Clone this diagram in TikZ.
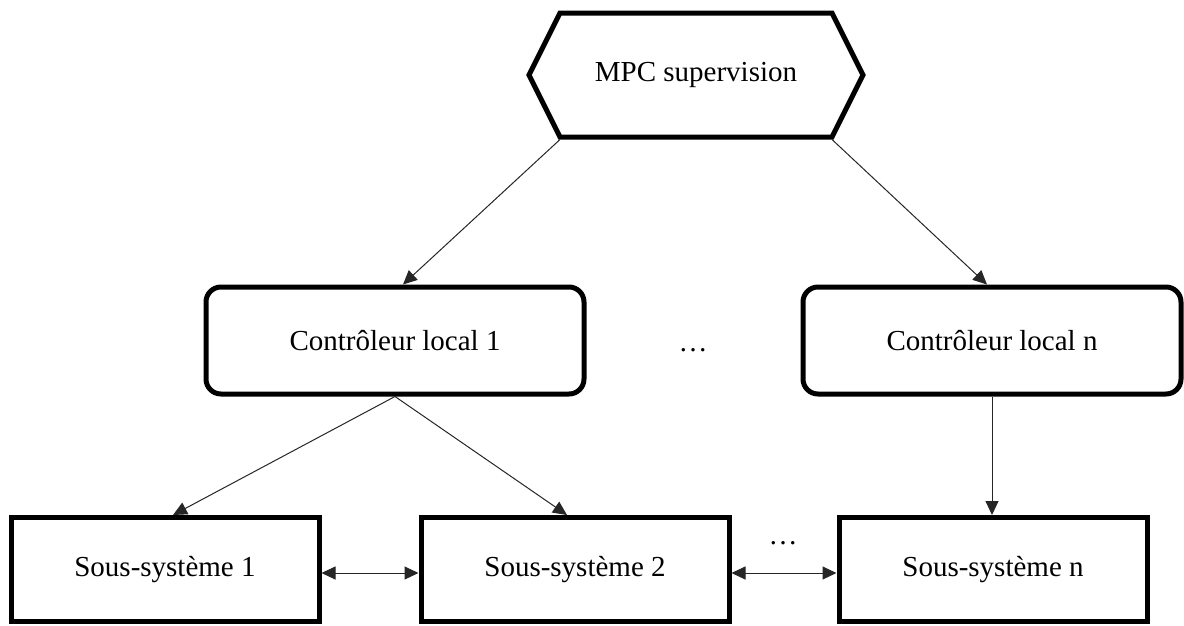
\documentclass[tikz,border=0pt]{standalone}
\usepackage{fontspec}
\setmainfont{Liberation Serif}
\usetikzlibrary{arrows.meta,calc}
\begin{document}
\begin{tikzpicture}[x=1pt,y=-1pt,
  lbl/.style={font=\fontsize{29}{34}\selectfont},
  ctrlbox/.style={lbl,draw,line width=5pt,rounded corners=15pt,minimum width=378pt,minimum height=107pt,inner sep=0pt},
  subbox/.style={lbl,draw,line width=5pt,minimum width=308pt,minimum height=104pt,inner sep=0pt},
  conn/.style={line width=1pt,black!85,-{Triangle[length=14pt,width=13pt]}},
  link/.style={line width=1pt,black!85,{Triangle[length=14pt,width=13pt]}-{Triangle[length=14pt,width=13pt]}},
  hexline/.style={line width=5pt,line join=miter}
]
\useasboundingbox (0,0) rectangle (1184,625);

% top supervisor
\node[lbl, minimum width=272pt, minimum height=124pt, inner sep=0pt, outer sep=0pt] (mpc) at (696,75) {MPC supervision};
\draw[hexline] (mpc.north west) -- (mpc.north east) -- ($(mpc.east)+(31,0)$) -- (mpc.south east) -- (mpc.south west) -- ($(mpc.west)+(-31,0)$) -- cycle;

% local controllers
\node[ctrlbox] (c1) at (395,340.5) {Contrôleur local 1};
\node[ctrlbox] (cn) at (992,340.5) {Contrôleur local n};
\node[lbl, anchor=base, inner sep=0pt] (dots1) at (693,351.5) {…};

% subsystems
\node[subbox] (s1) at (165,569.5) {Sous-système 1};
\node[subbox] (s2) at (575,569.5) {Sous-système 2};
\node[subbox] (sn) at (993,569.5) {Sous-système n};
\node[lbl, anchor=base, inner sep=0pt] (dots2) at (783,544) {…};

% connectors
\draw[conn] ($(mpc.south west)+(0,2.5)$) -- ($(c1.north)+(8,0)$);
\draw[conn] ($(mpc.south east)+(0,2.5)$) -- ($(cn.north)+(-5,0)$);
\draw[conn] (c1.south) -- ($(s1.north)+(8,0)$);
\draw[conn] (c1.south) -- ($(s2.north)+(-8,0)$);
\draw[conn] (cn.south) -- (cn.south |- sn.north);
\draw[link] ($(s1.east)+(0,3.5)$) -- ($(s2.west)+(0,3.5)$);
\draw[link] ($(s2.east)+(0,3.5)$) -- ($(sn.west)+(0,3.5)$);
\end{tikzpicture}
\end{document}
